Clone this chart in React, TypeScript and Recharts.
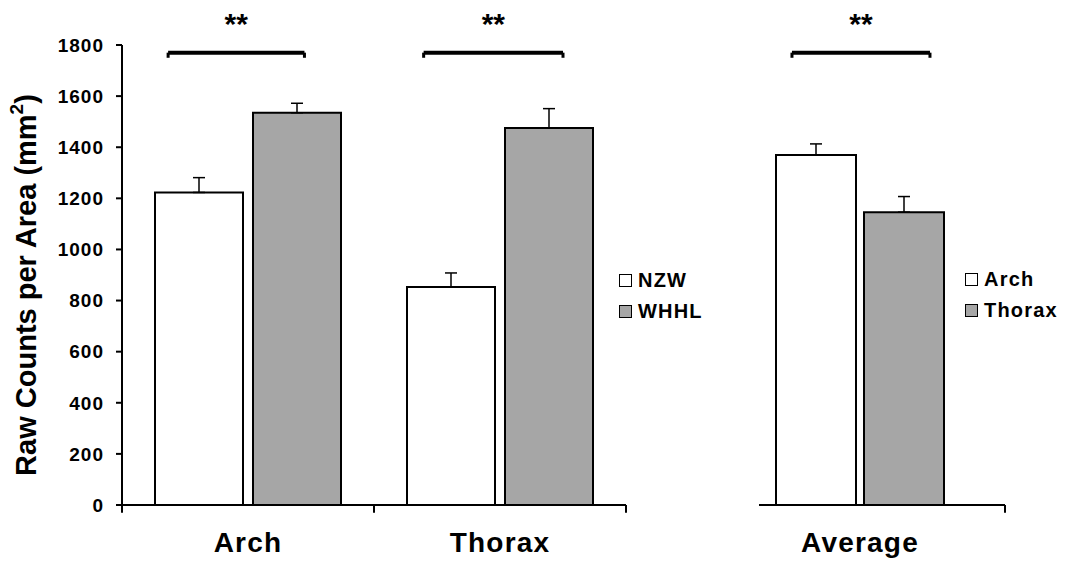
import React from 'react';
import { BarChart, Bar, XAxis, YAxis, ErrorBar, Legend, ReferenceLine, ScatterChart } from 'recharts';

// left panel: per region, NZW vs WHHL
const regions = ['Arch', 'Thorax'];
const nzwMeans = [1223, 853];
const nzwErrs = [58, 55];
const whhlMeans = [1535, 1475];
const whhlErrs = [37, 76];

// right panel: average of both strains, Arch vs Thorax
const avgCategories = ['Average'];
const archAvg = [1370];
const archAvgErr = [43];
const thoraxAvg = [1146];
const thoraxAvgErr = [61];

const yTicks = [0, 200, 400, 600, 800, 1000, 1200, 1400, 1600, 1800];

// significance brackets, in category units along the panel's x axis
const leftBrackets = [
  { x0: 0.183, x1: 0.724, y: 1770, text: '**' },
  { x0: 1.197, x1: 1.75, y: 1770, text: '**' },
];
const rightBrackets = [{ x0: 0.134, x1: 0.695, y: 1770, text: '**' }];

// tick marks at category boundaries
const leftBoundaries = [0, 1, 2];
const rightBoundaries = [1];

const leftData = regions.map((r, i) => ({
  region: r,
  nzw: nzwMeans[i],
  nzwErr: [0, nzwErrs[i]],
  whhl: whhlMeans[i],
  whhlErr: [0, whhlErrs[i]],
}));

const rightData = avgCategories.map((c, i) => ({
  cat: c,
  arch: archAvg[i],
  archErr: [0, archAvgErr[i]],
  thorax: thoraxAvg[i],
  thoraxErr: [0, thoraxAvgErr[i]],
}));

const FONT = '"Liberation Sans", Arial, sans-serif';
const GRAY = '#a6a6a6';

const LegendBox = ({ payload }: any) => (
  <div style={{ fontFamily: FONT, fontWeight: 'bold', fontSize: 20, color: '#000', letterSpacing: 1.2 }}>
    {(payload || []).map((entry: any, i: number) => (
      <div key={i} style={{ display: 'flex', alignItems: 'center', height: 31 }}>
        <span
          style={{
            display: 'inline-block',
            width: 11,
            height: 11,
            border: '1.5px solid #000',
            background: entry.color,
            marginRight: 6,
          }}
        />
        <span>{entry.value}</span>
      </div>
    ))}
  </div>
);

const YLabel = (props: any) => {
  const vb = props.viewBox || { x: 0, y: 45, width: 122, height: 460 };
  const cx = vb.x + 26;
  const cy = vb.y + vb.height / 2 + 10;
  return (
    <text
      x={cx}
      y={cy}
      transform={`rotate(-90 ${cx} ${cy})`}
      textAnchor="middle"
      dominantBaseline="central"
      fontSize={29}
      fontWeight="bold"
      fill="#000"
      fontFamily={FONT}
    >
      Raw Counts per Area (mm
      <tspan dy={-10} fontSize={19}>2</tspan>
      <tspan dy={10}>)</tspan>
    </text>
  );
};

const renderBrackets = (list: any[]) =>
  list.flatMap((b, i) => [
    <ReferenceLine
      key={`h${i}`}
      segment={[{ x: b.x0, y: b.y }, { x: b.x1, y: b.y }]}
      stroke="#000"
      strokeWidth={4}
      ifOverflow="visible"
      label={{ value: b.text, position: 'top', offset: 19, fontSize: 30, fontWeight: 'bold', fill: '#000', fontFamily: FONT }}
    />,
    <ReferenceLine
      key={`l${i}`}
      segment={[{ x: b.x0, y: b.y }, { x: b.x0, y: b.y - 20 }]}
      stroke="#000"
      strokeWidth={3}
      ifOverflow="visible"
    />,
    <ReferenceLine
      key={`r${i}`}
      segment={[{ x: b.x1, y: b.y }, { x: b.x1, y: b.y - 20 }]}
      stroke="#000"
      strokeWidth={3}
      ifOverflow="visible"
    />,
  ]);

const renderBoundaryTicks = (list: number[]) =>
  list.map((k) => (
    <ReferenceLine
      key={`t${k}`}
      segment={[{ x: k, y: 0 }, { x: k, y: -30 }]}
      stroke="#000"
      strokeWidth={2}
      ifOverflow="visible"
    />
  ));

const catTick = { fontSize: 28, fontWeight: 'bold', fill: '#000', fontFamily: FONT, letterSpacing: 1.2 };

// transparent overlay with a numeric x axis, for brackets and boundary ticks
const Overlay = ({ width, margin, domain, brackets, boundaries }: any) => (
  <div style={{ position: 'absolute', left: 0, top: 0, pointerEvents: 'none' }}>
    <ScatterChart width={width} height={561} margin={margin}>
      <XAxis type="number" dataKey="x" domain={domain} allowDataOverflow hide />
      <YAxis type="number" dataKey="y" domain={[0, 1800]} allowDataOverflow hide />
      {renderBoundaryTicks(boundaries)}
      {renderBrackets(brackets)}
    </ScatterChart>
  </div>
);

export default function App() {
  return (
    <div style={{ position: 'absolute', left: 0, top: 0, width: 1071, height: 561, background: '#fff', fontFamily: FONT }}>
      <div style={{ position: 'absolute', left: 0, top: 0, width: 720, height: 561 }}>
        <BarChart
          width={720}
          height={561}
          data={leftData}
          margin={{ top: 45, right: 94, bottom: 0, left: 0 }}
          barSize={88}
          barGap={10}
        >
          <XAxis
            dataKey="region"
            height={56}
            axisLine={{ stroke: '#000', strokeWidth: 2 }}
            tickLine={false}
            tickSize={8}
            tickMargin={19}
            tick={catTick}
          />
          <YAxis
            width={122}
            domain={[0, 1800]}
            ticks={yTicks}
            interval={0}
            axisLine={{ stroke: '#000', strokeWidth: 2 }}
            tickLine={{ stroke: '#000', strokeWidth: 2 }}
            tickSize={6}
            tickMargin={12}
            tick={{ fontSize: 19, fontWeight: 'bold', fill: '#000', fontFamily: FONT, letterSpacing: 1 }}
            label={<YLabel />}
          />
          <Legend
            layout="vertical"
            align="center"
            verticalAlign="middle"
            content={<LegendBox />}
            wrapperStyle={{ position: 'absolute', left: 619, top: 265, width: 110 }}
          />
          <Bar dataKey="nzw" name="NZW" fill="#ffffff" stroke="#000" strokeWidth={2} isAnimationActive={false}>
            <ErrorBar dataKey="nzwErr" width={6} stroke="#000" strokeWidth={1.5} direction="y" isAnimationActive={false} />
          </Bar>
          <Bar dataKey="whhl" name="WHHL" fill={GRAY} stroke="#000" strokeWidth={2} isAnimationActive={false}>
            <ErrorBar dataKey="whhlErr" width={6} stroke="#000" strokeWidth={1.5} direction="y" isAnimationActive={false} />
          </Bar>
        </BarChart>
        <Overlay
          width={720}
          margin={{ top: 45, right: 94, bottom: 56, left: 122 }}
          domain={[0, regions.length]}
          brackets={leftBrackets}
          boundaries={leftBoundaries}
        />
      </div>
      <div style={{ position: 'absolute', left: 720, top: 0, width: 351, height: 561 }}>
        <BarChart
          width={351}
          height={561}
          data={rightData}
          margin={{ top: 45, right: 66, bottom: 0, left: 39 }}
          barSize={80}
          barGap={8}
        >
          <XAxis
            dataKey="cat"
            height={56}
            padding={{ left: 0, right: 44 }}
            axisLine={{ stroke: '#000', strokeWidth: 2 }}
            tickLine={false}
            tickSize={8}
            tickMargin={19}
            tick={catTick}
          />
          <YAxis domain={[0, 1800]} ticks={yTicks} hide />
          <Legend
            layout="vertical"
            align="center"
            verticalAlign="middle"
            content={<LegendBox />}
            wrapperStyle={{ position: 'absolute', left: 245, top: 264, width: 110 }}
          />
          <Bar dataKey="arch" name="Arch" fill="#ffffff" stroke="#000" strokeWidth={2} isAnimationActive={false}>
            <ErrorBar dataKey="archErr" width={6} stroke="#000" strokeWidth={1.5} direction="y" isAnimationActive={false} />
          </Bar>
          <Bar dataKey="thorax" name="Thorax" fill={GRAY} stroke="#000" strokeWidth={2} isAnimationActive={false}>
            <ErrorBar dataKey="thoraxErr" width={6} stroke="#000" strokeWidth={1.5} direction="y" isAnimationActive={false} />
          </Bar>
        </BarChart>
        <Overlay
          width={351}
          margin={{ top: 45, right: 66, bottom: 56, left: 39 }}
          domain={[0, avgCategories.length]}
          brackets={rightBrackets}
          boundaries={rightBoundaries}
        />
      </div>
    </div>
  );
}
